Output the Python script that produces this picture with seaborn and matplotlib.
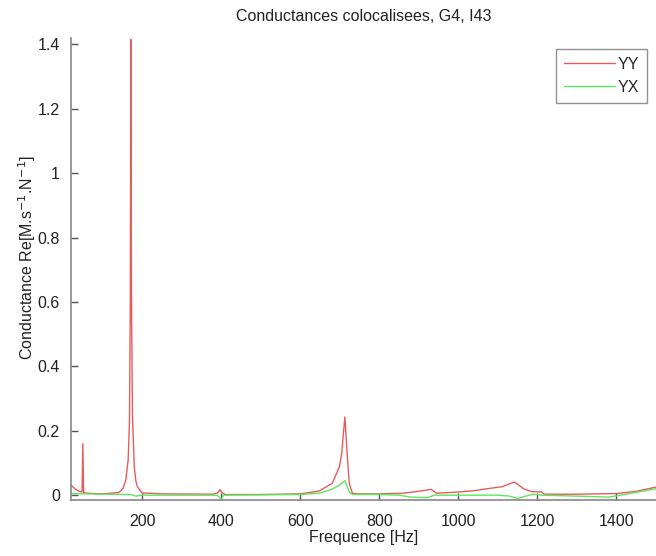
import matplotlib
matplotlib.use("Agg")
import matplotlib.pyplot as plt
import seaborn as sns
import pandas as pd

# Conductance (real part) versus frequency, co-located measurement
freq_yy = [20, 30, 40, 48, 50, 52, 60, 100, 140, 146, 152, 158.6, 164.6, 168, 170,
           171.5, 173, 175.5, 180, 184, 188, 200, 250, 380, 392, 397, 402, 410, 500,
           600, 648, 681, 699, 705, 709, 713, 718, 724, 732, 745, 800, 860, 900,
           931, 945, 1003, 1040, 1078, 1110, 1142, 1165, 1185, 1210, 1218, 1300,
           1400, 1450, 1500]
cond_yy = [0.031, 0.02, 0.012, 0.01, 0.16, 0.008, 0.006, 0.004, 0.008, 0.013, 0.022,
           0.047, 0.109, 0.23, 0.6, 1.415, 0.6, 0.25, 0.088, 0.045, 0.026, 0.007, 0.004,
           0.003, 0.008, 0.017, 0.008, 0.002, 0.002, 0.004, 0.013, 0.037, 0.088, 0.13,
           0.19, 0.243, 0.14, 0.037, 0.006, 0.004, 0.004, 0.006, 0.012, 0.018, 0.006,
           0.01, 0.014, 0.021, 0.026, 0.041, 0.02, 0.011, 0.01, 0.003, 0.003,
           0.005, 0.012, 0.025]

freq_yx = [20, 100, 170, 185, 200, 390, 396, 400, 405, 600, 648, 681, 699, 713,
           724, 732, 800, 850, 880, 920, 940, 1100, 1130, 1150, 1170, 1190, 1210,
           1300, 1380, 1420, 1500]
cond_yx = [0.005, 0.003, 0.002, -0.003, 0.0, 0.0, -0.008, -0.015, 0.0, 0.002,
           0.006, 0.019, 0.031, 0.045, 0.01, 0.002, 0.002, 0.0, -0.006, -0.008,
           0.0, 0.0, -0.003, -0.01, -0.003, 0.003, 0.0, -0.003, -0.006, 0.002, 0.02]

series_names = ["YY", "YX"]
series_colors = ["#e65c5c", "#5ee65e"]

sns.set_style("white")
plt.rcParams["font.family"] = ["Liberation Sans", "DejaVu Sans"]

fs = 11.5
fig = plt.figure(figsize=(6.56, 5.56), dpi=100)
ax = fig.add_axes([71 / 656, 1 - 500 / 556, 585 / 656, 462 / 556])

for name, fx, cy, col in zip(series_names, [freq_yy, freq_yx], [cond_yy, cond_yx], series_colors):
    df = pd.DataFrame({"f": fx, "g": cy})
    sns.lineplot(data=df, x="f", y="g", ax=ax, color=col, linewidth=1.0, label=name)

ax.set_xlim(20, 1500)
ax.set_ylim(-0.015, 1.42)
ax.set_xticks([200, 400, 600, 800, 1000, 1200, 1400])
ax.set_yticks([0, 0.2, 0.4, 0.6, 0.8, 1.0, 1.2, 1.4])
ax.set_yticklabels(["0", "0.2", "0.4", "0.6", "0.8", "1", "1.2", "1.4"])

for side in ["top", "right"]:
    ax.spines[side].set_visible(False)
for side in ["left", "bottom"]:
    ax.spines[side].set_color("#888888")
    ax.spines[side].set_linewidth(1.2)

ax.tick_params(axis="both", direction="in", length=5, width=1, color="#555555",
               labelsize=fs, labelcolor="#222222", bottom=True, left=True)
ax.tick_params(axis="x", pad=10)
ax.tick_params(axis="y", pad=8)

ax.set_xlabel("Frequence [Hz]", fontsize=fs, color="#222222", labelpad=1)
ax.set_ylabel("Conductance Re[M.s$^{-1}$.N$^{-1}$]", fontsize=fs, color="#222222")
ax.yaxis.set_label_coords(-0.056, 0.525)
ax.set_title("Conductances colocalisees, G4, I43", fontsize=fs, color="#222222", pad=12)

leg = ax.legend(loc="upper right", bbox_to_anchor=(0.985, 0.976), borderaxespad=0,
                fontsize=fs, frameon=True, fancybox=False, handlelength=3.2,
                borderpad=0.5, labelspacing=0.5, handletextpad=0.15)
leg.get_frame().set_edgecolor("#777777")
leg.get_frame().set_linewidth(1.0)

fig.savefig("out.png", dpi=100)
